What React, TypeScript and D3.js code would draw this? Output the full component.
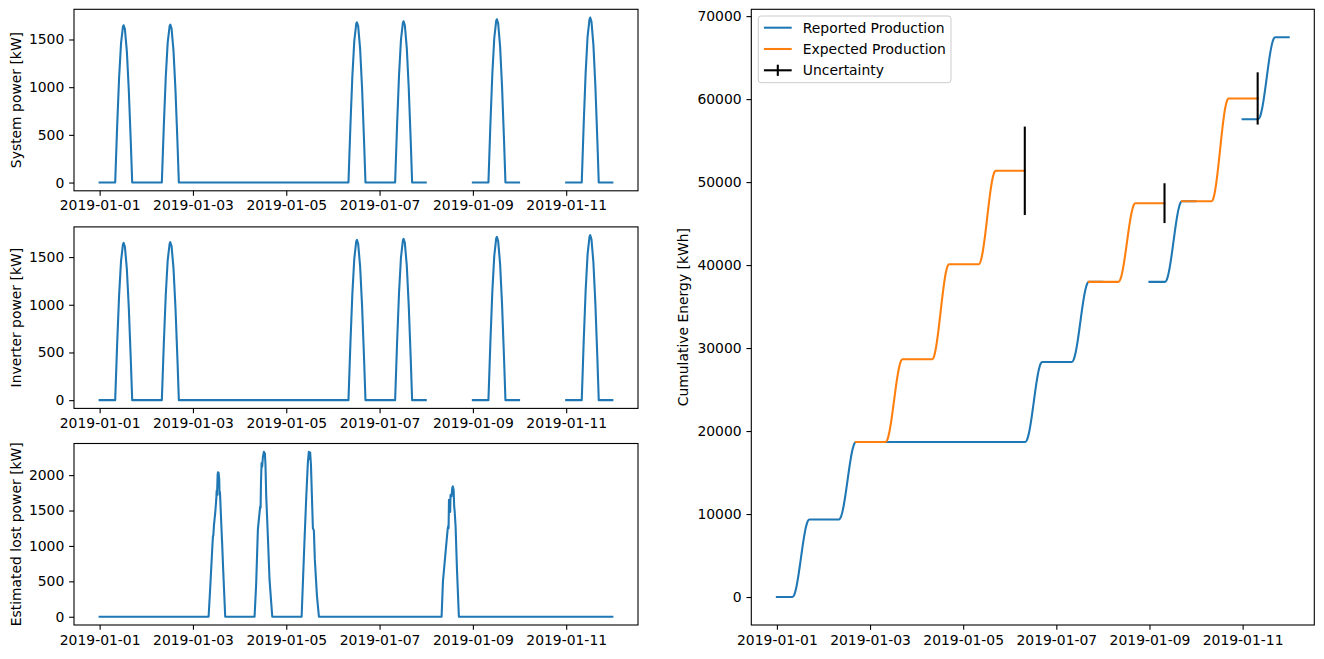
import { useEffect, useRef } from "react";
import * as d3 from "d3";

// hour of day for every sample in a daily profile
const dayHours = [8, 9, 10, 11, 12, 12.35, 13, 14, 15, 16, 16.75];

const productionDays = ["2019-01-01", "2019-01-02", "2019-01-06", "2019-01-07", "2019-01-09", "2019-01-11"];

// kW at dayHours
const systemPower = [
  [0, 584, 1093, 1458, 1634, 1649, 1608, 1375, 970, 439, 0],
  [0, 586, 1098, 1464, 1641, 1656, 1615, 1381, 974, 441, 0],
  [0, 595, 1114, 1485, 1665, 1680, 1638, 1401, 988, 447, 0],
  [0, 599, 1121, 1495, 1676, 1691, 1649, 1410, 994, 450, 0],
  [0, 606, 1135, 1513, 1697, 1712, 1669, 1428, 1007, 455, 0],
  [0, 612, 1147, 1529, 1714, 1730, 1687, 1443, 1017, 460, 0],
];
const inverterPower = [
  [0, 584, 1093, 1458, 1634, 1649, 1608, 1375, 970, 439, 0],
  [0, 586, 1098, 1464, 1641, 1656, 1615, 1381, 974, 441, 0],
  [0, 595, 1114, 1485, 1665, 1680, 1638, 1401, 988, 447, 0],
  [0, 599, 1121, 1495, 1676, 1691, 1649, 1410, 994, 450, 0],
  [0, 606, 1135, 1513, 1697, 1712, 1669, 1428, 1007, 455, 0],
  [0, 612, 1147, 1529, 1714, 1730, 1687, 1443, 1017, 460, 0],
];

// periods with reported data (01-08 and 01-10 are missing)
const reportedStart = ["2019-01-01T00:00", "2019-01-09T00:00", "2019-01-11T00:00"];
const reportedEnd = ["2019-01-07T23:45", "2019-01-09T23:45", "2019-01-11T23:45"];

const lostDays = ["2019-01-03", "2019-01-04", "2019-01-05", "2019-01-08"];
const lostHours = [
  [8.05, 9, 10, 10.3, 10.5, 10.8, 11.5, 12, 12.2, 12.4, 12.7, 12.9, 13.2, 13.5, 13.7, 13.9, 14.2, 14.6, 15, 15.5, 16, 16.6],
  [7.7, 8.5, 9.4, 10, 10.6, 10.8, 11, 11.3, 11.6, 12, 12.5, 12.8, 13, 13.3, 13.7, 14.6, 15.4, 16.8],
  [7.9, 9.4, 10.3, 11.1, 11.6, 12, 12.3, 12.7, 13.2, 13.7, 14.2, 14.7, 15.8, 16.8],
  [7.9, 8.6, 11, 11.3, 11.5, 11.7, 12, 12.3, 12.5, 13, 13.4, 13.7, 14.1, 14.4, 14.6, 15.1, 15.8, 16.8],
];
const lostPower = [
  [0, 470, 1000, 1140, 1150, 1290, 1480, 1660, 1780, 1720, 2010, 2040, 2030, 1950, 1720, 1760, 1560, 1300, 1050, 700, 380, 0],
  [0, 450, 1230, 1400, 1560, 1540, 1900, 2170, 2120, 2260, 2330, 2280, 2310, 2150, 1700, 1090, 520, 0],
  [0, 1090, 1700, 2170, 2330, 2230, 2320, 2150, 1700, 1250, 1220, 810, 290, 0],
  [0, 500, 1230, 1280, 1250, 1650, 1640, 1480, 1720, 1700, 1820, 1840, 1790, 1550, 1500, 1280, 680, 0],
];
const lostStart = "2019-01-01T00:00";
const lostEnd = "2019-01-11T23:45";

// cumulative kWh at dayHours
const reportedEnergy = [
  [0, 298, 1155, 2463, 4047, 4633, 5716, 7248, 8457, 9185, 9350],
  [9350, 9648, 10503, 11810, 13392, 13978, 15060, 16590, 17798, 18525, 18690],
  [18690, 18998, 19881, 21229, 22862, 23467, 24583, 26163, 27409, 28159, 28330],
  [28330, 28638, 29522, 30872, 32507, 33112, 34229, 35811, 37058, 37809, 37980],
  [37980, 38290, 39180, 40540, 42187, 42796, 43922, 45515, 46772, 47528, 47700],
  [57580, 57895, 58799, 60180, 61852, 62471, 63614, 65231, 66507, 67275, 67450],
];

const expectedDays = ["2019-01-03", "2019-01-04", "2019-01-05", "2019-01-08", "2019-01-10"];
const expectedEnergy = [
  [18690, 19008, 19920, 21313, 23001, 23625, 24779, 26411, 27699, 28474, 28650],
  [28650, 29015, 30064, 31666, 33606, 34324, 35650, 37526, 39006, 39897, 40100],
  [40100, 40459, 41491, 43066, 44973, 45679, 46983, 48829, 50285, 51161, 51360],
  [37980, 38282, 39151, 40477, 42083, 42677, 43775, 45329, 46555, 47292, 47460],
  [47700, 48095, 49229, 50961, 53058, 53834, 55268, 57297, 58898, 59860, 60080],
];
const expectedStart = ["2019-01-02T16:45", "2019-01-07T16:45", "2019-01-09T16:45"];
const expectedEnd = ["2019-01-06T07:45", "2019-01-09T07:45", "2019-01-11T07:45"];
const uncertainty = [5330, 2400, 3150];

const dateTicks = ["2019-01-01", "2019-01-03", "2019-01-05", "2019-01-07", "2019-01-09", "2019-01-11"];
const powerTicks = [0, 500, 1000, 1500];
const lostTicks = [0, 500, 1000, 1500, 2000];
const energyTicks = [0, 10000, 20000, 30000, 40000, 50000, 60000, 70000];

const BLUE = "#1f77b4";
const ORANGE = "#ff7f0e";
const FONT = 13.9;
const TICK = 4.86;

const parseDay = d3.utcParse("%Y-%m-%d");
const parseTime = d3.utcParse("%Y-%m-%dT%H:%M");
const at = (day: string, h: number) => new Date(parseDay(day)!.getTime() + h * 3600e3);

type Pt = [Date, number];

// power is zero outside the listed days, inside a period with data
function powerSeries(start: string, end: string, days: string[], hours: number[][], values: number[][]): Pt[] {
  const t0 = parseTime(start)!;
  const t1 = parseTime(end)!;
  const pts: Pt[] = [[t0, 0]];
  days.forEach((d, i) => {
    const day = parseDay(d)!;
    if (day < t0 || day > t1) return;
    hours[i].forEach((h, j) => pts.push([at(d, h), values[i][j]]));
  });
  pts.push([t1, 0]);
  return pts;
}

// cumulative energy stays flat before the first and after the last day
function energySeries(start: string, end: string, days: string[], values: number[][]): Pt[] {
  const t0 = parseTime(start)!;
  const t1 = parseTime(end)!;
  const idx = days.map((_, i) => i).filter((i) => {
    const day = parseDay(days[i])!;
    return day >= t0 && day <= t1;
  });
  const pts: Pt[] = [[t0, values[idx[0]][0]]];
  idx.forEach((i) => dayHours.forEach((h, j) => pts.push([at(days[i], h), values[i][j]])));
  const last = values[idx[idx.length - 1]];
  pts.push([t1, last[last.length - 1]]);
  return pts;
}

export default function App() {
  const svgRef = useRef<SVGSVGElement>(null);

  useEffect(() => {
    const svg = d3.select(svgRef.current);
    svg.selectAll("*").remove();

    const tMin = parseTime(lostStart)!.getTime();
    const tMax = parseTime(lostEnd)!.getTime();
    const tPad = (tMax - tMin) * 0.05;
    const xDomain = [new Date(tMin - tPad), new Date(tMax + tPad)];
    const padded = (lo: number, hi: number) => [lo - (hi - lo) * 0.05, hi + (hi - lo) * 0.05];

    const drawFrame = (
      box: { left: number; top: number; width: number; height: number },
      y: d3.ScaleLinear<number, number>,
      yTicks: number[],
      label: string,
      labelX: number
    ) => {
      const x = d3.scaleUtc().domain(xDomain).range([box.left, box.left + box.width]);
      const g = svg.append("g");

      const xAxis = d3
        .axisBottom(x)
        .tickValues(dateTicks.map((d) => parseDay(d)!))
        .tickFormat((d) => d3.utcFormat("%Y-%m-%d")(d as Date))
        .tickSize(TICK)
        .tickPadding(TICK)
        .tickSizeOuter(0);
      const yAxis = d3
        .axisLeft(y)
        .tickValues(yTicks)
        .tickFormat(d3.format("d"))
        .tickSize(TICK)
        .tickPadding(TICK)
        .tickSizeOuter(0);

      g.append("g")
        .attr("transform", `translate(0,${box.top + box.height})`)
        .call(xAxis)
        .call((a) => a.select(".domain").remove());
      g.append("g")
        .attr("transform", `translate(${box.left},0)`)
        .call(yAxis)
        .call((a) => a.select(".domain").remove());
      g.selectAll(".tick line").attr("stroke", "#000").attr("stroke-width", 1.1);
      g.selectAll(".tick text").attr("fill", "#000");
      g.selectAll("g").attr("font-family", null).attr("font-size", null);

      g.append("text")
        .attr("transform", `translate(${labelX},${box.top + box.height / 2}) rotate(-90)`)
        .attr("text-anchor", "middle")
        .attr("dominant-baseline", "central")
        .text(label);

      return { x, g };
    };

    const spines = (box: { left: number; top: number; width: number; height: number }) =>
      svg
        .append("rect")
        .attr("x", box.left)
        .attr("y", box.top)
        .attr("width", box.width)
        .attr("height", box.height)
        .attr("fill", "none")
        .attr("stroke", "#000")
        .attr("stroke-width", 1.1);

    const drawPath = (x: d3.ScaleTime<number, number>, y: d3.ScaleLinear<number, number>, pts: Pt[], color: string, curve: d3.CurveFactory) => {
      const line = d3
        .line<Pt>()
        .x((d) => x(d[0]))
        .y((d) => y(d[1]))
        .curve(curve);
      svg
        .append("path")
        .attr("d", line(pts))
        .attr("fill", "none")
        .attr("stroke", color)
        .attr("stroke-width", 2.08)
        .attr("stroke-linejoin", "round")
        .attr("stroke-linecap", "square");
    };

    const leftW = 564;
    const panelH = 181.5;
    const panels = [
      { top: 9.3, label: "System power [kW]", values: systemPower },
      { top: 226.9, label: "Inverter power [kW]", values: inverterPower },
    ];

    // system and inverter power
    panels.forEach((p) => {
      const box = { left: 74, top: p.top, width: leftW, height: panelH };
      const maxP = d3.max(p.values.flat())!;
      const y = d3.scaleLinear().domain(padded(0, maxP)).range([box.top + box.height, box.top]);
      const { x } = drawFrame(box, y, powerTicks, p.label, 16);
      reportedStart.forEach((s, i) => {
        const pts = powerSeries(s, reportedEnd[i], productionDays, productionDays.map(() => dayHours), p.values);
        drawPath(x, y, pts, BLUE, d3.curveLinear);
      });
      spines(box);
    });

    // estimated lost power
    {
      const box = { left: 74, top: 443.5, width: leftW, height: panelH };
      const maxP = d3.max(lostPower.flat())!;
      const y = d3.scaleLinear().domain(padded(0, maxP)).range([box.top + box.height, box.top]);
      const { x } = drawFrame(box, y, lostTicks, "Estimated lost power [kW]", 16);
      drawPath(x, y, powerSeries(lostStart, lostEnd, lostDays, lostHours, lostPower), BLUE, d3.curveLinear);
      spines(box);
    }

    // cumulative energy
    {
      const box = { left: 751.3, top: 9.3, width: 563, height: 615.7 };
      const maxE = d3.max(reportedEnergy.flat())!;
      const y = d3.scaleLinear().domain(padded(0, maxE)).range([box.top + box.height, box.top]);
      const { x } = drawFrame(box, y, energyTicks, "Cumulative Energy [kWh]", 683);

      reportedStart.forEach((s, i) => {
        drawPath(x, y, energySeries(s, reportedEnd[i], productionDays, reportedEnergy), BLUE, d3.curveMonotoneX);
      });
      expectedStart.forEach((s, i) => {
        drawPath(x, y, energySeries(s, expectedEnd[i], expectedDays, expectedEnergy), ORANGE, d3.curveMonotoneX);
      });

      // uncertainty bars at the end of each expected stretch
      expectedStart.forEach((s, i) => {
        const pts = energySeries(s, expectedEnd[i], expectedDays, expectedEnergy);
        const [t, v] = pts[pts.length - 1];
        svg
          .append("line")
          .attr("x1", x(t))
          .attr("x2", x(t))
          .attr("y1", y(v - uncertainty[i]))
          .attr("y2", y(v + uncertainty[i]))
          .attr("stroke", "#000")
          .attr("stroke-width", 2.08);
      });
      spines(box);

      // legend
      const lg = svg.append("g").attr("transform", "translate(758.3,16)");
      lg.append("rect")
        .attr("width", 192.7)
        .attr("height", 66.7)
        .attr("rx", 2.8)
        .attr("fill", "#fff")
        .attr("fill-opacity", 0.8)
        .attr("stroke", "#cccccc")
        .attr("stroke-width", 1);
      const items = [
        { name: "Reported Production", color: BLUE, bar: false },
        { name: "Expected Production", color: ORANGE, bar: false },
        { name: "Uncertainty", color: "#000", bar: true },
      ];
      items.forEach((it, i) => {
        const cy = 11.7 + i * 21.3;
        lg.append("line")
          .attr("x1", 5.6)
          .attr("x2", 33.4)
          .attr("y1", cy)
          .attr("y2", cy)
          .attr("stroke", it.color)
          .attr("stroke-width", 2.08);
        if (it.bar) {
          lg.append("line")
            .attr("x1", 19.5)
            .attr("x2", 19.5)
            .attr("y1", cy - 5.6)
            .attr("y2", cy + 5.6)
            .attr("stroke", it.color)
            .attr("stroke-width", 2.08);
        }
        lg.append("text")
          .attr("x", 44.5)
          .attr("y", cy)
          .attr("dominant-baseline", "central")
          .text(it.name);
      });
    }
  }, []);

  return (
    <svg
      ref={svgRef}
      width={1324}
      height={659}
      fontFamily="DejaVu Sans"
      fontSize={FONT}
      style={{ position: "absolute", left: 0, top: 0, background: "#fff" }}
    />
  );
}
